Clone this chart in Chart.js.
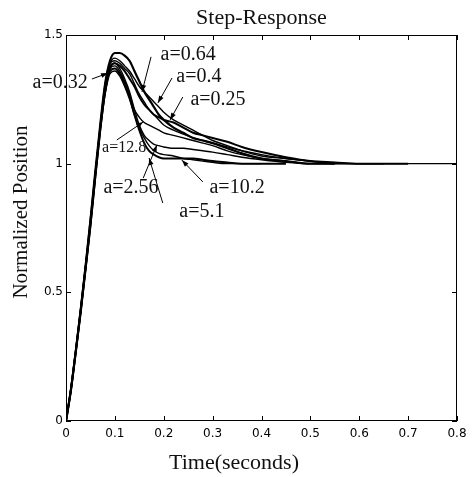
<!DOCTYPE html>
<html>
<head>
<meta charset="utf-8">
<script src="https://cdn.jsdelivr.net/npm/chart.js@4.4.0/dist/chart.umd.min.js"></script>
<style>
  html, body { margin: 0; padding: 0; background: #fff; }
  #wrap { width: 474px; height: 477px; }
</style>
</head>
<body>
<div id="wrap"><canvas id="step-chart"></canvas></div>
<script>
// time grid (seconds) shared by all the responses
const time = [0, 0.01, 0.02, 0.03, 0.04, 0.05, 0.06, 0.07, 0.08, 0.09,
  0.10, 0.11, 0.12, 0.13, 0.14, 0.15, 0.16, 0.17, 0.18, 0.19,
  0.20, 0.22, 0.24, 0.26, 0.28, 0.30, 0.33, 0.36, 0.40, 0.45,
  0.50, 0.55, 0.60, 0.65, 0.70, 0.80];

// normalized position for each gain a (null = curve already ended)
const a064 = [0, .12, .27, .43, .60, .78, .97, 1.15, 1.31, 1.40,
  1.43, 1.43, 1.42, 1.40, 1.36, 1.32, 1.28, 1.25, 1.22, 1.19,
  1.17, 1.14, 1.12, 1.10, 1.09, 1.08, 1.06, 1.04, 1.02, 1.01,
  1.0, 1.0, null, null, null, null];
const a04 = [0, .12, .27, .43, .60, .77, .96, 1.14, 1.30, 1.39,
  1.41, 1.40, 1.38, 1.36, 1.33, 1.30, 1.28, 1.26, 1.24, 1.22,
  1.20, 1.17, 1.15, 1.13, 1.11, 1.09, 1.07, 1.05, 1.03, 1.02,
  1.01, 1.0, 1.0, 1.0, null, null];
const a025 = [0, .12, .27, .42, .59, .76, .95, 1.13, 1.28, 1.37,
  1.39, 1.38, 1.36, 1.33, 1.30, 1.26, 1.23, 1.21, 1.19, 1.18,
  1.17, 1.16, 1.14, 1.12, 1.11, 1.10, 1.085, 1.065, 1.045, 1.025,
  1.01, 1.005, 1.0, 1.0, 1.0, null];
const a032 = [0, .13, .28, .44, .61, .79, .97, 1.15, 1.31, 1.39,
  1.40, 1.39, 1.37, 1.35, 1.31, 1.27, 1.24, 1.21, 1.19, 1.17,
  1.15, 1.13, 1.115, 1.10, 1.09, 1.08, 1.065, 1.05, 1.035, 1.02,
  1.01, 1.0, 1.0, 1.0, null, null];
const a128 = [0, .12, .27, .43, .60, .77, .96, 1.14, 1.29, 1.37,
  1.38, 1.36, 1.32, 1.27, 1.21, 1.18, 1.16, 1.15, 1.14, 1.13,
  1.12, 1.11, 1.10, 1.09, 1.08, 1.07, 1.05, 1.035, 1.02, 1.01,
  1.0, 1.0, 1.0, 1.0, 1.0, 1.0];
const a256 = [0, .12, .27, .43, .60, .77, .96, 1.14, 1.29, 1.38,
  1.39, 1.37, 1.33, 1.28, 1.21, 1.15, 1.11, 1.09, 1.075, 1.07,
  1.065, 1.06, 1.06, 1.055, 1.05, 1.045, 1.035, 1.025, 1.015, 1.005,
  1.0, 1.0, null, null, null, null];
const a51 = [0, .12, .27, .43, .59, .76, .95, 1.13, 1.28, 1.36,
  1.37, 1.35, 1.31, 1.26, 1.19, 1.13, 1.08, 1.05, 1.035, 1.025,
  1.02, 1.02, 1.02, 1.02, 1.015, 1.01, 1.005, 1.0, 1.0, 1.0,
  null, null, null, null, null, null];
const a102 = [0, .12, .27, .42, .59, .76, .95, 1.13, 1.27, 1.35,
  1.36, 1.34, 1.30, 1.25, 1.19, 1.14, 1.10, 1.07, 1.05, 1.04,
  1.035, 1.03, 1.02, 1.015, 1.01, 1.005, 1.0, 1.0, 1.0, null,
  null, null, null, null, null, null];

const seriesNames = ['a=0.64', 'a=0.4', 'a=0.25', 'a=0.32', 'a=12.8', 'a=2.56', 'a=5.1', 'a=10.2'];
const seriesValues = [a064, a04, a025, a032, a128, a256, a51, a102];
const lineWidths = [2.2, 1.4, 2, 1.4, 1.4, 1.4, 2, 1.4];

const xTicks = [0, 0.1, 0.2, 0.3, 0.4, 0.5, 0.6, 0.7, 0.8];
const xTickLabels = ['0', '0.1', '0.2', '0.3', '0.4', '0.5', '0.6', '0.7', '0.8'];
const yTicks = [0, 0.5, 1, 1.5];
const yTickLabels = ['0', '0.5', '1', '1.5'];

const serif = '"Liberation Serif", "Times New Roman", serif';
const tickFont = { family: '"DejaVu Sans", sans-serif', size: 12 };

// curve labels: text centre, start of the pointer line, arrow tip (all in data units)
const notes = [
  { text: 'a=0.32', at: [-0.012, 1.313], from: [0.053, 1.329], to: [0.086, 1.352], size: 20 },
  { text: 'a=0.64', at: [0.250, 1.422], from: [0.174, 1.415], to: [0.1555, 1.279], size: 20 },
  { text: 'a=0.4', at: [0.272, 1.337], from: [0.217, 1.333], to: [0.188, 1.236], size: 20 },
  { text: 'a=0.25', at: [0.311, 1.247], from: [0.239, 1.259], to: [0.213, 1.170], size: 20 },
  { text: 'a=12.8', at: [0.119, 1.061], from: [0.104, 1.092], to: [0.158, 1.162], size: 16 },
  { text: 'a=2.56', at: [0.133, 0.906], from: [0.158, 0.944], to: [0.186, 1.073], size: 20 },
  { text: 'a=10.2', at: [0.350, 0.906], from: [0.280, 0.929], to: [0.237, 1.014], size: 20 },
  { text: 'a=5.1', at: [0.278, 0.812], from: [0.198, 0.847], to: [0.170, 1.022], size: 20 }
];

const decor = {
  id: 'decor',
  afterDraw(chart) {
    const { ctx, chartArea: area, scales: { x, y } } = chart;
    ctx.save();
    ctx.strokeStyle = '#000';
    ctx.fillStyle = '#111';
    ctx.lineWidth = 1;

    // box
    ctx.strokeRect(area.left + 0.5, area.top + 0.5, area.width - 1, area.height - 1);

    // inward ticks on all four sides
    ctx.beginPath();
    xTicks.forEach(v => {
      const px = Math.round(x.getPixelForValue(v)) + 0.5;
      ctx.moveTo(px, area.bottom); ctx.lineTo(px, area.bottom - 5);
      ctx.moveTo(px, area.top); ctx.lineTo(px, area.top + 5);
    });
    yTicks.forEach(v => {
      const py = Math.round(y.getPixelForValue(v)) + 0.5;
      ctx.moveTo(area.left, py); ctx.lineTo(area.left + 5, py);
      ctx.moveTo(area.right, py); ctx.lineTo(area.right - 5, py);
    });
    ctx.stroke();

    // title and axis labels
    ctx.textAlign = 'center';
    ctx.textBaseline = 'middle';
    ctx.font = '22px ' + serif;
    ctx.fillText('Step-Response', (area.left + area.right) / 2, 18);
    ctx.fillText('Time(seconds)', 234, 463);
    ctx.save();
    ctx.translate(21, 212);
    ctx.rotate(-Math.PI / 2);
    ctx.font = '21px ' + serif;
    ctx.fillText('Normalized Position', 0, 0);
    ctx.restore();

    // curve labels with arrows
    notes.forEach(n => {
      const tx = x.getPixelForValue(n.at[0]), ty = y.getPixelForValue(n.at[1]);
      const fx = x.getPixelForValue(n.from[0]), fy = y.getPixelForValue(n.from[1]);
      const ex = x.getPixelForValue(n.to[0]), ey = y.getPixelForValue(n.to[1]);
      ctx.font = n.size + 'px ' + serif;
      ctx.fillText(n.text, tx, ty);
      ctx.beginPath();
      ctx.moveTo(fx, fy);
      ctx.lineTo(ex, ey);
      ctx.stroke();
      const ang = Math.atan2(ey - fy, ex - fx);
      ctx.beginPath();
      ctx.moveTo(ex, ey);
      ctx.lineTo(ex - 7 * Math.cos(ang) + 2.5 * Math.sin(ang), ey - 7 * Math.sin(ang) - 2.5 * Math.cos(ang));
      ctx.lineTo(ex - 7 * Math.cos(ang) - 2.5 * Math.sin(ang), ey - 7 * Math.sin(ang) + 2.5 * Math.cos(ang));
      ctx.closePath();
      ctx.fillStyle = '#000';
      ctx.fill();
      ctx.fillStyle = '#111';
    });
    ctx.restore();
  }
};

const datasets = seriesNames.map((name, i) => ({
  label: name,
  data: time.map((t, k) => ({ x: t, y: seriesValues[i][k] })).filter(p => p.y !== null),
  borderColor: '#000',
  borderWidth: lineWidths[i],
  pointRadius: 0,
  fill: false,
  cubicInterpolationMode: 'monotone'
}));

new Chart(document.getElementById('step-chart'), {
  type: 'line',
  data: { datasets: datasets },
  plugins: [decor],
  options: {
    responsive: true,
    maintainAspectRatio: false,
    animation: false,
    layout: { padding: { top: 35, right: 17, left: 0, bottom: 0 } },
    plugins: {
      legend: { display: false },
      tooltip: { enabled: false }
    },
    scales: {
      x: {
        type: 'linear',
        min: 0,
        max: 0.8,
        afterBuildTicks: s => { s.ticks = xTicks.map(v => ({ value: v })); },
        afterFit: s => { s.height = 56; },
        ticks: {
          callback: (v, i) => xTickLabels[i],
          font: tickFont,
          color: '#000',
          padding: 6,
          maxRotation: 0,
          autoSkip: false
        },
        grid: { display: false, drawTicks: false },
        border: { display: false }
      },
      y: {
        min: 0,
        max: 1.5,
        afterBuildTicks: s => { s.ticks = yTicks.map(v => ({ value: v })); },
        afterFit: s => { s.width = 66; },
        ticks: {
          callback: (v, i) => yTickLabels[i],
          font: tickFont,
          color: '#000',
          padding: 3,
          autoSkip: false
        },
        grid: { display: false, drawTicks: false },
        border: { display: false }
      }
    }
  }
});
</script>
</body>
</html>
